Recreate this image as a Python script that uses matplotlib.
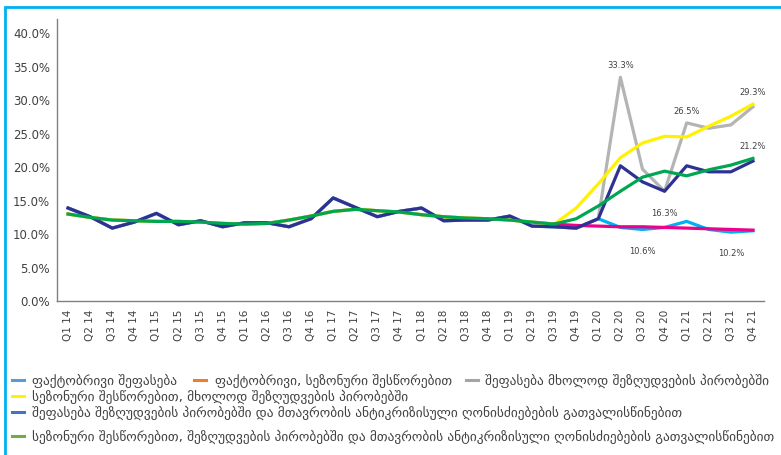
import matplotlib
matplotlib.use("Agg")
import matplotlib.pyplot as plt
from matplotlib.lines import Line2D
from matplotlib.patches import Rectangle
from matplotlib.ticker import FuncFormatter

plt.rcParams['font.family'] = ['DejaVu Sans']

# quarters Q1 14 .. Q4 21
quarters = [f"Q{q} {y}" for y in range(14, 22) for q in range(1, 5)]

# history Q1 14 .. Q3 19 (shared by all scenarios)
hist_actual = [13.8, 12.5, 10.8, 11.7, 13.0, 11.3, 11.9, 11.0, 11.6, 11.6, 11.0, 12.2,
               15.3, 13.9, 12.5, 13.3, 13.8, 11.9, 12.0, 12.0, 12.6, 11.1, 11.0]
hist_sa = [12.9, 12.4, 12.0, 11.9, 11.8, 11.8, 11.7, 11.5, 11.4, 11.5, 12.0, 12.6,
           13.3, 13.6, 13.4, 13.2, 12.8, 12.5, 12.3, 12.2, 12.0, 11.7, 11.4]

# scenarios Q4 19 .. Q4 21
fc_actual = [10.8, 12.2, 10.9, 10.6, 10.9, 11.8, 10.6, 10.2, 10.4]
fc_actual_sa = [11.2, 11.1, 11.0, 11.0, 10.9, 10.8, 10.7, 10.6, 10.5]
fc_restr = [10.8, 12.2, 33.3, 19.6, 16.3, 26.5, 25.7, 26.2, 28.9]
fc_restr_sa = [13.8, 17.4, 21.3, 23.5, 24.5, 24.4, 26.0, 27.5, 29.3]
fc_gov = [10.8, 12.2, 20.1, 17.7, 16.3, 20.1, 19.2, 19.2, 20.8]
fc_gov_sa = [12.2, 14.1, 16.3, 18.4, 19.3, 18.6, 19.5, 20.2, 21.2]

labels = [
    "ფაქტობრივი შეფასება",
    "ფაქტობრივი, სეზონური შესწორებით",
    "შეფასება მხოლოდ შეზღუდვების პირობებში",
    "სეზონური შესწორებით, მხოლოდ შეზღუდვების პირობებში",
    "შეფასება შეზღუდვების პირობებში და მთავრობის ანტიკრიზისული ღონისძიებების გათვალისწინებით",
    "სეზონური შესწორებით, შეზღუდვების პირობებში და მთავრობის ანტიკრიზისული ღონისძიებების გათვალისწინებით",
]
legend_colors = ['#5B9BD5', '#ED7D31', '#A5A5A5', '#FFF200', '#4472C4', '#70AD47']

fig = plt.figure(figsize=(7.81, 4.56), dpi=100)
ax = fig.add_axes([57 / 781, 1 - 301.5 / 456, 707 / 781, 281.5 / 456])

x = list(range(len(quarters)))
n_hist = len(hist_actual)
lw = 2.3

s_actual = hist_actual + fc_actual
s_restr = hist_actual + fc_restr
s_restr_sa = hist_sa + fc_restr_sa
s_gov = hist_actual + fc_gov
s_gov_sa = hist_sa + fc_gov_sa

ax.plot(x, s_actual, color='#00B0F0', lw=lw, zorder=2)
ax.plot(x[:n_hist], hist_sa, color='#ED7D31', lw=lw, zorder=2)
ax.plot(x[n_hist - 1:], [hist_sa[-1]] + fc_actual_sa, color='#EC008C', lw=lw, zorder=4)
ax.plot(x, s_restr, color='#B4B4B4', lw=lw, zorder=3)
ax.plot(x, s_restr_sa, color='#FFF200', lw=lw, zorder=3)
ax.plot(x, s_gov, color='#2E3192', lw=lw, zorder=5)
ax.plot(x, s_gov_sa, color='#00A651', lw=lw, zorder=6)

# data labels
i_q2_20, i_q3_20, i_q4_20, i_q1_21, i_q3_21, i_q4_21 = 25, 26, 27, 28, 30, 31
notes = [
    (s_restr, i_q2_20, 9), (s_restr_sa, i_q4_21, 9), (s_restr, i_q1_21, 9),
    (s_gov_sa, i_q4_21, 9), (s_gov, i_q4_20, -15), (s_actual, i_q3_20, -15),
    (s_actual, i_q3_21, -15),
]
for series, i, dy in notes:
    ax.annotate(f"{series[i]:.1f}%", (i, series[i]), xytext=(0, dy),
                textcoords='offset points', ha='center', va='center',
                fontsize=6, color='#404040')

ax.set_xlim(-0.5, len(quarters) - 0.5)
ax.set_ylim(0, 42)
ax.set_yticks(range(0, 41, 5))
ax.yaxis.set_major_formatter(FuncFormatter(lambda v, p: f"{v:.1f}%"))
ax.set_xticks(x)
ax.set_xticklabels(quarters, rotation=90)
ax.tick_params(axis='y', length=0, pad=5, labelsize=8.5, labelcolor='#404040')
ax.tick_params(axis='x', length=0, pad=6, labelsize=7.5, labelcolor='#404040')
for s in ['top', 'right']:
    ax.spines[s].set_visible(False)
for s in ['left', 'bottom']:
    ax.spines[s].set_color('#808080')
    ax.spines[s].set_linewidth(1)

# legend, laid out by hand like the original: (handle x, text x, y, entry)
rows = [(12, 32, 381, 0), (194, 215, 381, 1), (466, 485, 381, 2),
        (12, 32, 397, 3), (12, 32, 413, 4), (12, 32, 437, 5)]
for hx, tx, py, k in rows:
    yf = 1 - py / 456
    fig.add_artist(Line2D([hx / 781, (hx + 12) / 781], [yf, yf], color=legend_colors[k],
                          lw=2.2, transform=fig.transFigure))
    fig.text(tx / 781, yf, labels[k], fontsize=9.6, color='#404040', va='center')

# blue frame
fig.add_artist(Rectangle((5 / 781, -0.1), 1.2, 1 - 8 / 456 + 0.1, fill=False,
                         edgecolor='#00B0F0', lw=2, transform=fig.transFigure))

fig.savefig("out.png", dpi=100)
